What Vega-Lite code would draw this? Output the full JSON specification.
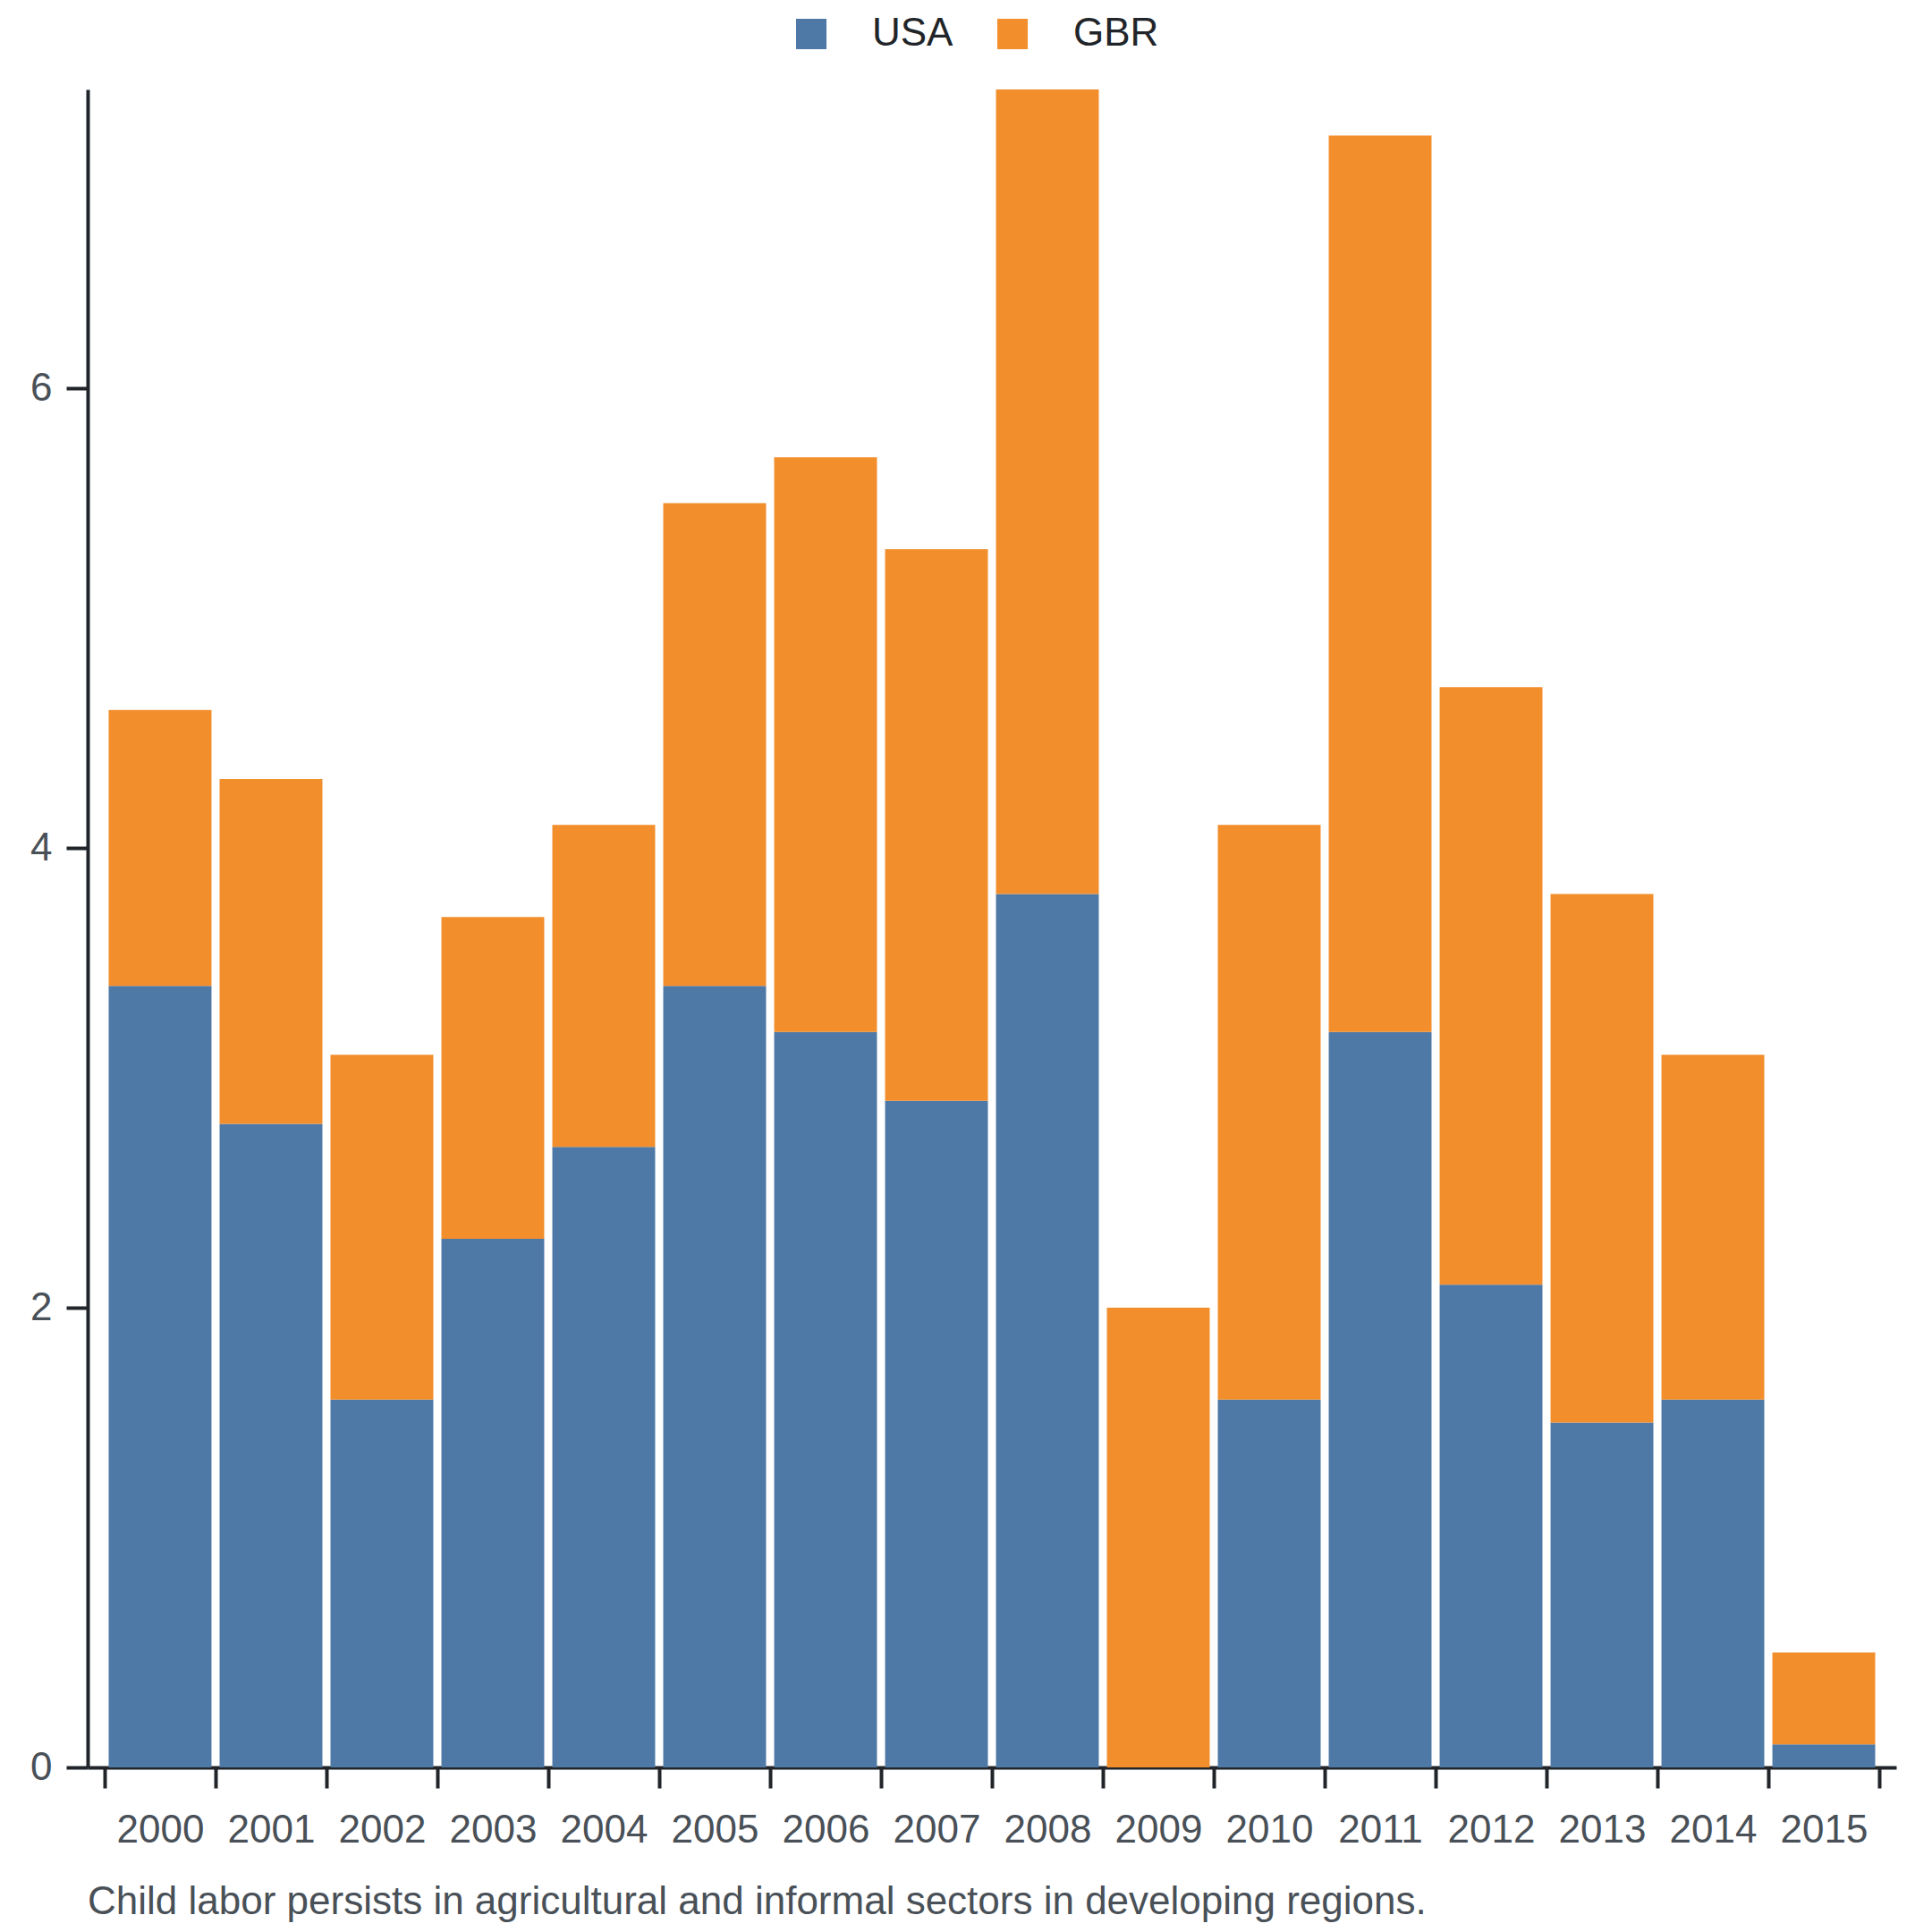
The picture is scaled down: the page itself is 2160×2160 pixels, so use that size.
{
  "$schema": "https://vega.github.io/schema/vega-lite/v6.json",
  "autosize": {"type": "none"},
  "padding": {"left": 98, "top": 100, "right": 40, "bottom": 184},
  "width": 2022,
  "height": 1876,
  "background": "white",
  "title": {
    "text": "Child labor persists in agricultural and informal sectors in developing regions.",
    "orient": "bottom",
    "anchor": "start",
    "frame": "group",
    "offset": 37,
    "font": "Liberation Sans",
    "fontSize": 44,
    "fontWeight": "normal",
    "color": "#495057"
  },
  "data": {
    "values": [
      {"year": "2000", "country": "USA", "value": 3.4},
      {"year": "2000", "country": "GBR", "value": 1.2},
      {"year": "2001", "country": "USA", "value": 2.8},
      {"year": "2001", "country": "GBR", "value": 1.5},
      {"year": "2002", "country": "USA", "value": 1.6},
      {"year": "2002", "country": "GBR", "value": 1.5},
      {"year": "2003", "country": "USA", "value": 2.3},
      {"year": "2003", "country": "GBR", "value": 1.4},
      {"year": "2004", "country": "USA", "value": 2.7},
      {"year": "2004", "country": "GBR", "value": 1.4},
      {"year": "2005", "country": "USA", "value": 3.4},
      {"year": "2005", "country": "GBR", "value": 2.1},
      {"year": "2006", "country": "USA", "value": 3.2},
      {"year": "2006", "country": "GBR", "value": 2.5},
      {"year": "2007", "country": "USA", "value": 2.9},
      {"year": "2007", "country": "GBR", "value": 2.4},
      {"year": "2008", "country": "USA", "value": 3.8},
      {"year": "2008", "country": "GBR", "value": 3.5},
      {"year": "2009", "country": "USA", "value": 0},
      {"year": "2009", "country": "GBR", "value": 2.0},
      {"year": "2010", "country": "USA", "value": 1.6},
      {"year": "2010", "country": "GBR", "value": 2.5},
      {"year": "2011", "country": "USA", "value": 3.2},
      {"year": "2011", "country": "GBR", "value": 3.9},
      {"year": "2012", "country": "USA", "value": 2.1},
      {"year": "2012", "country": "GBR", "value": 2.6},
      {"year": "2013", "country": "USA", "value": 1.5},
      {"year": "2013", "country": "GBR", "value": 2.3},
      {"year": "2014", "country": "USA", "value": 1.6},
      {"year": "2014", "country": "GBR", "value": 1.5},
      {"year": "2015", "country": "USA", "value": 0.1},
      {"year": "2015", "country": "GBR", "value": 0.4}
    ]
  },
  "mark": {"type": "bar", "width": {"band": 0.927}},
  "encoding": {
    "x": {
      "field": "year",
      "type": "ordinal",
      "scale": {"paddingInner": 0, "paddingOuter": 0.153},
      "axis": {
        "title": null,
        "labelAngle": 0,
        "tickBand": "extent",
        "tickSize": 23,
        "tickWidth": 4,
        "tickColor": "#212529",
        "domainWidth": 4,
        "domainColor": "#212529",
        "labelPadding": 25,
        "labelFont": "Liberation Sans",
        "labelFontSize": 44,
        "labelColor": "#495057"
      }
    },
    "y": {
      "field": "value",
      "type": "quantitative",
      "stack": "zero",
      "scale": {"domain": [0, 7.3], "nice": false},
      "axis": {
        "title": null,
        "values": [0, 2, 4, 6],
        "grid": false,
        "tickSize": 24,
        "tickWidth": 4,
        "tickColor": "#212529",
        "domainWidth": 4,
        "domainColor": "#212529",
        "labelPadding": 16,
        "labelFont": "Liberation Sans",
        "labelFontSize": 44,
        "labelColor": "#495057"
      }
    },
    "color": {
      "field": "country",
      "type": "nominal",
      "scale": {"domain": ["USA", "GBR"], "range": ["#4e79a7", "#f28e2b"]},
      "legend": {
        "title": null,
        "orient": "none",
        "direction": "horizontal",
        "legendX": 787,
        "legendY": -84,
        "padding": 0,
        "symbolType": "square",
        "symbolSize": 1156,
        "symbolStrokeWidth": 0,
        "symbolOpacity": 1,
        "labelFont": "Liberation Sans",
        "labelFontSize": 44,
        "labelColor": "#212529",
        "labelOffset": 46,
        "columnPadding": 44
      }
    },
    "order": {"field": "country", "sort": "descending"}
  },
  "config": {
    "view": {"stroke": null}
  }
}
